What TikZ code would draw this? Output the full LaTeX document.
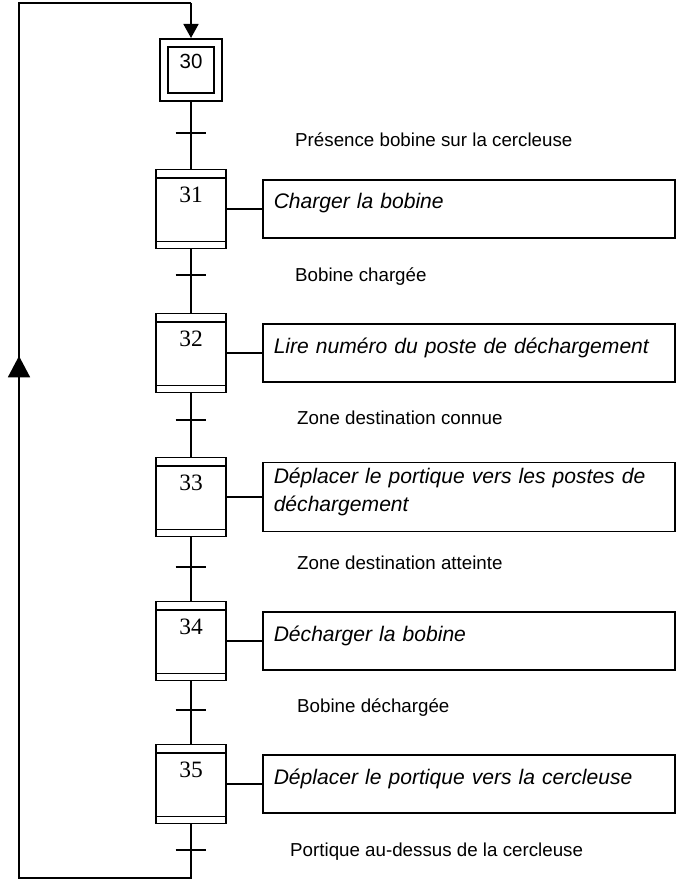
\documentclass[tikz,border=0pt]{standalone}
\usepackage{fontspec}
\setmainfont{Liberation Sans}
\newfontfamily\numfont{Liberation Serif}
\usetikzlibrary{positioning,arrows.meta}

\tikzset{
	lien/.style={line width=1.5pt},
	etape/.style={draw, lien, minimum width=2.1cm, minimum height=2.37cm, inner sep=0pt,
		text height=0.99cm, text depth=1.38cm, font=\numfont\fontsize{20}{20}\selectfont},
	etapeinit/.style={draw, lien, double, double distance=0.19cm, outer sep=0.15cm,
		minimum width=1.62cm, minimum height=1.62cm, inner sep=0pt,
		text height=0.76cm, text depth=0.86cm, font=\fontsize{17.5}{17.5}\selectfont},
	action/.style={draw, lien, text width=11.7cm, align=left, inner xsep=0.33cm, inner ysep=0pt,
		text height=0.87cm, text depth=0.87cm, font=\itshape\fontsize{18}{24}\selectfont},
	recep/.style={anchor=west, inner sep=0pt, font=\fontsize{16}{16}\selectfont},
}

\begin{document}
\begin{tikzpicture}[x=0.03cm, y=-0.03cm]
		\useasboundingbox (0, 0) rectangle (684, 879);

		\coordinate (t1) at (191, 133);
		\coordinate (t2) at (191, 275);
		\coordinate (t3) at (191, 420);
		\coordinate (t4) at (191, 567);
		\coordinate (t5) at (191, 710);
		\coordinate (t6) at (191, 850);

		\coordinate (b1) at (191, 878);
		\coordinate (b2) at (19, 878);
		\coordinate (b3) at (19, 3);
		\coordinate (b4) at (191, 3);
		\coordinate (fl) at (19, 356);

		% étapes
		\node[etapeinit] (e30) at (191, 70) {30};
		\node[etape] (e31) at (191, 209) {31};
		\node[etape] (e32) at (191, 353) {32};
		\node[etape] (e33) at (191, 497) {33};
		\node[etape] (e34) at (191, 641) {34};
		\node[etape] (e35) at (191, 784) {35};

		\foreach \n in {31,...,35} {
			\draw[lien] ([yshift=-0.28cm]e\n.north west) -- ([yshift=-0.28cm]e\n.north east);
			\draw[lien] ([yshift=0.24cm]e\n.south west) -- ([yshift=0.24cm]e\n.south east);
		}

		% actions
		\node[action, right=1.05cm of e31] (a31) {Charger la bobine};
		\node[action, right=1.05cm of e32] (a32) {Lire numéro du poste de déchargement};
		\node[action, right=1.05cm of e33, text height=0.63cm, text depth=1.44cm] (a33) {Déplacer le portique vers les postes de\\déchargement};
		\node[action, right=1.05cm of e34] (a34) {Décharger la bobine};
		\node[action, right=1.05cm of e35] (a35) {Déplacer le portique vers la cercleuse};

		\foreach \n in {31,...,35}
			\draw[lien] (e\n) -- (a\n);

		% liaisons
		\draw[lien] (e30) -- (e31);
		\draw[lien] (e31) -- (e32);
		\draw[lien] (e32) -- (e33);
		\draw[lien] (e33) -- (e34);
		\draw[lien] (e34) -- (e35);
		\draw[lien] (e35.south) -- (b1) -- (b2) -- (b3) -- (b4);
		\draw[lien, -{Triangle[length=0.42cm, width=0.45cm]}] (b4) -- (e30.north);
		\draw[lien, -{Triangle[length=0.64cm, width=0.66cm]}] (b2) -- (fl);

		% transitions
		\foreach \t in {1,...,6}
			\draw[lien] ([xshift=-0.46cm]t\t) -- ([xshift=0.46cm]t\t);

		\node[recep] (r1) at (295, 140) {Présence bobine sur la cercleuse};
		\node[recep] (r2) at (295, 277) {Bobine chargée};
		\node[recep] (r3) at (297, 418) {Zone destination connue};
		\node[recep] (r4) at (297, 563) {Zone destination atteinte};
		\node[recep] (r5) at (297, 708) {Bobine déchargée};
		\node[recep] (r6) at (290, 852) {Portique au-dessus de la cercleuse};
	\end{tikzpicture}
\end{document}
